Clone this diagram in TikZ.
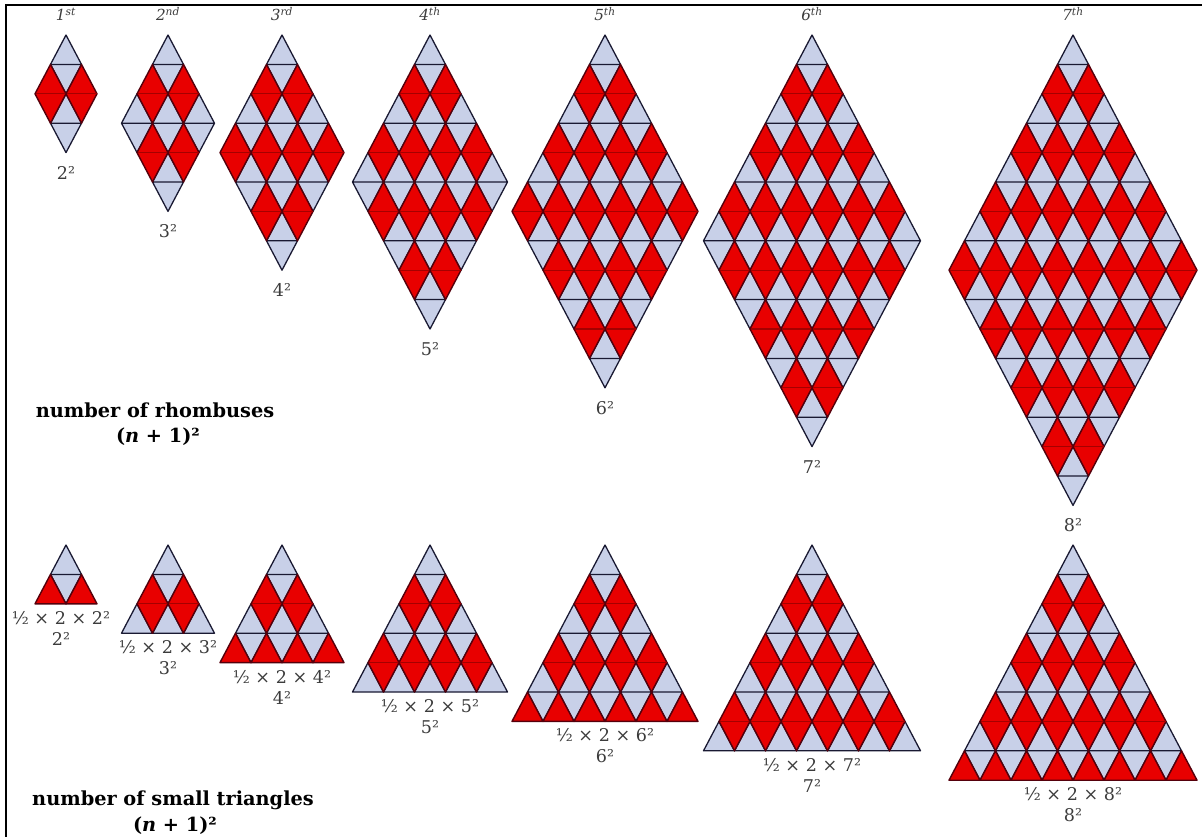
\documentclass[tikz,border=0pt]{standalone}
\usepackage{fontspec}
\setmainfont{DejaVu Serif}
\usetikzlibrary{positioning, backgrounds}

\definecolor{rhred}{RGB}{232,0,0}
\definecolor{rhblue}{RGB}{200,208,232}
\definecolor{navyedge}{RGB}{25,25,50}
\definecolor{redge}{RGB}{85,0,12}
\definecolor{redmid}{RGB}{165,0,0}
\definecolor{lblgray}{RGB}{60,60,60}

\begin{document}
\begin{tikzpicture}[
    x=0.03cm, y=-0.03cm,
    bluerh/.style={fill=rhblue, draw=navyedge, line width=1.1pt, line join=round},
    redrh/.style={fill=rhred, draw=redge, line width=1.2pt, line join=round},
    redmidline/.style={draw=redmid, line width=0.9pt},
    ordlbl/.style={font=\fontsize{13}{15}\selectfont\itshape, text=lblgray, inner sep=0pt},
    sqlbl/.style={font=\fontsize{15}{18}\selectfont, text=lblgray, inner sep=0pt},
    headlbl/.style={font=\fontsize{16.5}{20}\selectfont\bfseries, align=center, inner sep=0pt},
]

% frame, cut by the page on the right and at the bottom
\useasboundingbox (0,0) rectangle (1202,836);
\clip (0,0) rectangle (1202,836);
\draw[line width=1.8pt] (6,5) rectangle (1215,850);

% ========== RHOMBUSES ==========
% centre x / n+1 / ordinal suffix
\foreach \cx/\m/\suf [count=\i] in {66/2/st, 168/3/nd, 282/4/rd, 430/5/th, 605/6/th, 812/7/th, 1073/8/th} {
    \pgfmathtruncatemacro\nL{2*\m-1}
    \foreach \L in {1,...,\nL} {
        \pgfmathtruncatemacro\k{\L<=\m ? \L : 2*\m-\L}
        \foreach \j in {1,...,\k} {
            \pgfmathsetmacro\x{\cx+(\j-(\k+1)/2)*31}
            \pgfmathsetmacro\y{35+\L*29.4}
            \ifodd\L
                \begin{scope}[on background layer]
                \draw[bluerh] (\x,\y-29.4) -- (\x-15.5,\y) -- (\x,\y+29.4) -- (\x+15.5,\y) -- cycle
                    (\x-15.5,\y) -- (\x+15.5,\y);
                \end{scope}
            \else
                \draw[redrh] (\x,\y-29.4) -- (\x-15.5,\y) -- (\x,\y+29.4) -- (\x+15.5,\y) -- cycle;
                \draw[redmidline] (\x-15,\y) -- (\x+15,\y);
            \fi
        }
    }
    \pgfmathsetmacro\yb{35+2*\m*29.4+20}
    \pgfmathtruncatemacro\mm{\m}
    \node[ordlbl] (ord\i) at (\cx,14) {\i\textsuperscript{\suf}};
    \node[sqlbl] (sq\i) at (\cx,\yb) {\mm²};
}

% ========== TRIANGLES ==========
% centre x / n+1 / x of the labels
\foreach \cx/\m/\lx [count=\i] in {66/2/61, 168/3/168, 282/4/282, 430/5/430, 605/6/605, 812/7/812, 1073/8/1073} {
    \pgfmathtruncatemacro\nL{\m-1}
    \foreach \L in {1,...,\nL} {
        \foreach \j in {1,...,\L} {
            \pgfmathsetmacro\x{\cx+(\j-(\L+1)/2)*31}
            \pgfmathsetmacro\y{545+\L*29.4}
            \ifodd\L
                \begin{scope}[on background layer]
                \draw[bluerh] (\x,\y-29.4) -- (\x-15.5,\y) -- (\x,\y+29.4) -- (\x+15.5,\y) -- cycle
                    (\x-15.5,\y) -- (\x+15.5,\y);
                \end{scope}
            \else
                \draw[redrh] (\x,\y-29.4) -- (\x-15.5,\y) -- (\x,\y+29.4) -- (\x+15.5,\y) -- cycle;
                \draw[redmidline] (\x-15,\y) -- (\x+15,\y);
            \fi
        }
    }
    % bottom row: up triangles only
    \foreach \j in {1,...,\m} {
        \pgfmathsetmacro\x{\cx+(\j-(\m+1)/2)*31}
        \pgfmathsetmacro\y{545+\m*29.4}
        \ifodd\m
            \begin{scope}[on background layer]
            \draw[bluerh] (\x,\y-29.4) -- (\x-15.5,\y) -- (\x+15.5,\y) -- cycle;
            \end{scope}
        \else
            \draw[redrh] (\x,\y-29.4) -- (\x-15.5,\y) -- (\x+15.5,\y) -- cycle;
        \fi
    }
    \pgfmathsetmacro\yb{545+\m*29.4}
    \pgfmathtruncatemacro\mm{\m}
    \node[sqlbl] (half\i) at (\lx,\yb+14) {½ × 2 × \mm²};
    \node[sqlbl] (tsq\i) at (\lx,\yb+35) {\mm²};
}

% ========== HEADINGS ==========
\node[headlbl] (rhhead) at (155,410) {number of rhombuses};
\node[headlbl] (rhform) at (158,437) {(\textit{n} + 1)²};
\node[headlbl] (trhead) at (173,800) {number of small triangles};
\node[headlbl] (trform) at (175,826) {(\textit{n} + 1)²};

\end{tikzpicture}
\end{document}
